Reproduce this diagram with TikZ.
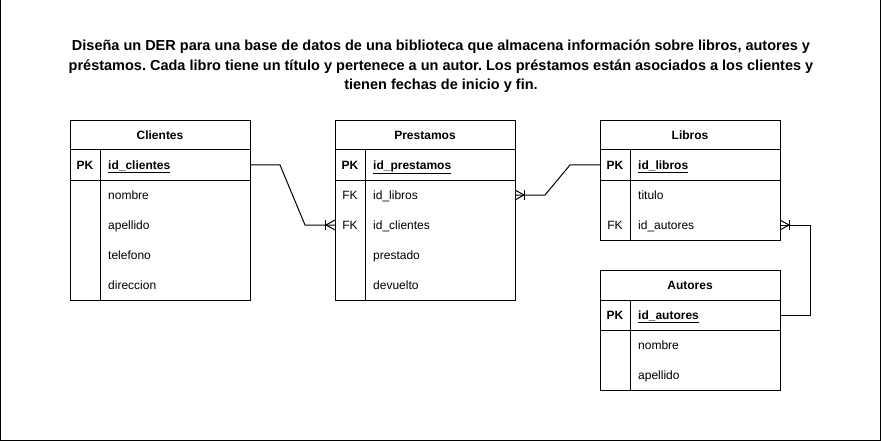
\documentclass[tikz,border=0pt]{standalone}
\usepackage{fontspec}
\setmainfont{Liberation Sans}
\usetikzlibrary{calc}
\frenchspacing
\begin{document}
\begin{tikzpicture}[x=1pt,y=-1pt,
  line/.style={draw=black,line width=1pt},
  hdr/.style={font=\fontsize{12}{14}\selectfont\bfseries,inner sep=0pt},
  keyt/.style={font=\fontsize{12}{14}\selectfont,inner sep=0pt},
  pkkey/.style={font=\fontsize{12}{14}\selectfont\bfseries,inner sep=0pt},
  fld/.style={font=\fontsize{12}{14}\selectfont,inner sep=0pt,anchor=base west},
  pkfld/.style={font=\fontsize{12}{14}\selectfont\bfseries,inner sep=0pt,anchor=base west},
  tblbox/.style={draw=black,line width=1pt,inner sep=0pt,minimum width=180pt,anchor=north west},
  conn/.style={draw=black,line width=1pt},
  crowfoot/.pic={\draw[line width=1pt] (0,-5) -- (-9,0) -- (0,5);
                 \draw[line width=1pt] (-9.5,-5) -- (-9.5,5);}
]
\useasboundingbox (0,0) rectangle (881,441);
% outer frame
\draw[line] (0.5,-3) -- (0.5,440) -- (880,440) -- (880,-3);

% title
\node[font=\fontsize{14.5}{19.5}\selectfont\bfseries,align=center,inner sep=0pt] (title) at (441,66.5)
 {Diseña un DER para una base de datos de una biblioteca que almacena información sobre libros, autores y\\
  préstamos. Cada libro tiene un título y pertenece a un autor. Los préstamos están asociados a los clientes y\\
  tienen fechas de inicio y fin.};

% ---------- Clientes ----------
\node[tblbox,minimum height=180pt] (cli) at (70,120) {};
\draw[line] (70,150) -- (250,150);
\draw[line] (70,180) -- (250,180);
\draw[line] (100,150) -- (100,300);
\node[hdr] (cliH) at (160,135) {Clientes};
\node[pkkey] (cliK1) at (85,165) {PK};
\node[pkfld] (cliF1) at (108,169.5) {\underline{id\_clientes}};
\node[fld] (cliF2) at (108,199.5) {nombre};
\node[fld] (cliF3) at (108,229.5) {apellido};
\node[fld] (cliF4) at (108,259.5) {telefono};
\node[fld] (cliF5) at (108,289.5) {direccion};
\coordinate (cliR1) at (250,165);

% ---------- Prestamos ----------
\node[tblbox,minimum height=180pt] (pre) at (335,120) {};
\draw[line] (335,150) -- (515,150);
\draw[line] (335,180) -- (515,180);
\draw[line] (365,150) -- (365,300);
\node[hdr] (preH) at (425,135) {Prestamos};
\node[pkkey] (preK1) at (350,165) {PK};
\node[keyt] (preK2) at (350,195) {FK};
\node[keyt] (preK3) at (350,225) {FK};
\node[pkfld] (preF1) at (373,169.5) {\underline{id\_prestamos}};
\node[fld] (preF2) at (373,199.5) {id\_libros};
\node[fld] (preF3) at (373,229.5) {id\_clientes};
\node[fld] (preF4) at (373,259.5) {prestado};
\node[fld] (preF5) at (373,289.5) {devuelto};
\coordinate (preL3) at (335,225);
\coordinate (preR2) at (515,195);

% ---------- Libros ----------
\node[tblbox,minimum height=120pt] (lib) at (600,120) {};
\draw[line] (600,150) -- (780,150);
\draw[line] (600,180) -- (780,180);
\draw[line] (630,150) -- (630,240);
\node[hdr] (libH) at (690,135) {Libros};
\node[pkkey] (libK1) at (615,165) {PK};
\node[keyt] (libK3) at (615,225) {FK};
\node[pkfld] (libF1) at (638,169.5) {\underline{id\_libros}};
\node[fld] (libF2) at (638,199.5) {titulo};
\node[fld] (libF3) at (638,229.5) {id\_autores};
\coordinate (libL1) at (600,165);
\coordinate (libR3) at (780,225);

% ---------- Autores ----------
\node[tblbox,minimum height=120pt] (aut) at (600,270) {};
\draw[line] (600,300) -- (780,300);
\draw[line] (600,330) -- (780,330);
\draw[line] (630,300) -- (630,390);
\node[hdr] (autH) at (690,285) {Autores};
\node[pkkey] (autK1) at (615,315) {PK};
\node[pkfld] (autF1) at (638,319.5) {\underline{id\_autores}};
\node[fld] (autF2) at (638,349.5) {nombre};
\node[fld] (autF3) at (638,379.5) {apellido};
\coordinate (autR1) at (780,315);

% ---------- connectors ----------
\draw[conn] (cliR1) -- ++(30,0) -- ($(preL3)+(-30,0)$) -- (preL3);
\pic at (preL3) {crowfoot};

\draw[conn] (libL1) -- ++(-30,0) -- ($(preR2)+(30,0)$) -- (preR2);
\pic[rotate=180] at (preR2) {crowfoot};

\draw[conn] (autR1) -- ++(30,0) -- ($(libR3)+(30,0)$) -- (libR3);
\pic[rotate=180] at (libR3) {crowfoot};
\end{tikzpicture}
\end{document}
